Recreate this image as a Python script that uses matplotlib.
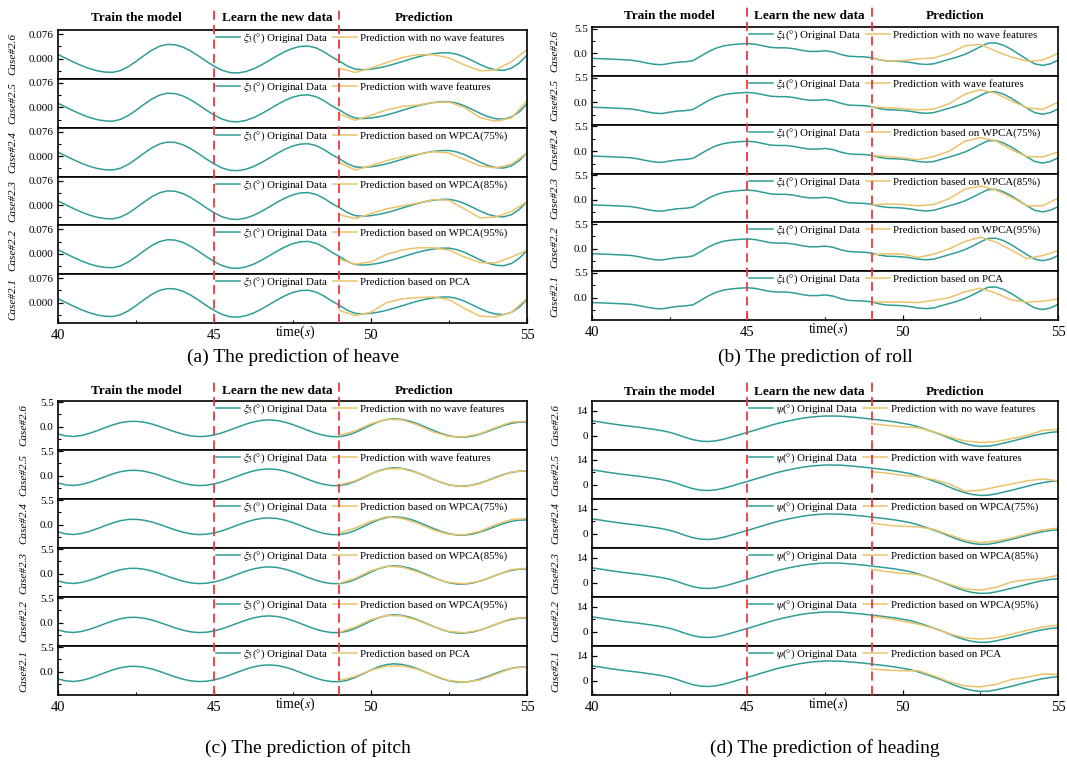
import numpy as np
import matplotlib.pyplot as plt
from matplotlib.ticker import FixedLocator, FormatStrFormatter

plt.rcParams['font.family'] = ['Liberation Serif', 'DejaVu Serif']
plt.rcParams['mathtext.fontset'] = 'stix'

W, H = 1067, 760
TEAL = '#2f9d97'
GOLD = '#eac36a'
RED = '#e8383d'

# x grids: original data every 0.25 s, predictions every 0.5 s from 49 s
time_full = np.arange(40, 55.001, 0.25)
time_pred = np.arange(49, 55.001, 0.5)

case_names = ["Case#2.6", "Case#2.5", "Case#2.4", "Case#2.3", "Case#2.2", "Case#2.1"]
pred_names = ["Prediction with no wave features", "Prediction with wave features",
              "Prediction based on WPCA(75%)", "Prediction based on WPCA(85%)",
              "Prediction based on WPCA(95%)", "Prediction based on PCA"]
headers = ["Train the model", "Learn the new data", "Prediction"]

# ---- heave ----
heave_orig = [0.0127, 0.0008, -0.0110, -0.0219, -0.0311, -0.0380, -0.0420, -0.0429,
              -0.0373, -0.0252, -0.0087, 0.0093, 0.0259, 0.0382, 0.0440, 0.0427,
              0.0354, 0.0231, 0.0077, -0.0090, -0.0243, -0.0365, -0.0436, -0.0448,
              -0.0407, -0.0322, -0.0202, -0.0062, 0.0082, 0.0212, 0.0315, 0.0376,
              0.0388, 0.0332, 0.0212, 0.0054, -0.0080, -0.0230, -0.0330, -0.0348,
              -0.0330, -0.0292, -0.0238, -0.0171, -0.0097, -0.0022, 0.0048, 0.0107,
              0.0150, 0.0175, 0.0179, 0.0135, 0.0048, -0.0066, -0.0185, -0.0288,
              -0.0353, -0.0368, -0.0300, -0.0140, 0.0106]
heave_pred = [
    [-0.030, -0.043, -0.030, -0.013, 0.003, 0.012, 0.012, 0.002, -0.020, -0.038, -0.035, -0.010, 0.028],
    [-0.020, -0.040, -0.025, -0.008, 0.003, 0.007, 0.015, 0.017, 0.000, -0.032, -0.043, -0.033, 0.020],
    [-0.020, -0.043, -0.030, -0.014, -0.002, 0.006, 0.014, 0.010, -0.010, -0.030, -0.036, -0.025, 0.010],
    [-0.030, -0.042, -0.027, -0.012, -0.003, 0.006, 0.017, 0.015, -0.012, -0.040, -0.037, -0.020, 0.010],
    [-0.016, -0.032, -0.025, -0.002, 0.012, 0.019, 0.019, 0.012, -0.010, -0.027, -0.028, -0.010, 0.011],
    [-0.024, -0.040, -0.030, 0.000, 0.012, 0.016, 0.018, 0.010, -0.018, -0.042, -0.044, -0.030, 0.013],
]

# ---- roll ----
roll_orig = [-1.10, -1.15, -1.22, -1.30, -1.38, -1.48, -1.75, -2.10,
             -2.40, -2.50, -2.20, -1.95, -1.85, -1.60, -0.60, 0.40,
             1.20, 1.70, 1.95, 2.10, 2.20, 2.05, 1.70, 1.35,
             1.25, 1.25, 1.05, 0.70, 0.45, 0.45, 0.60, 0.35,
             -0.20, -0.60, -0.70, -0.75, -0.95, -1.40, -1.65, -1.70,
             -1.80, -2.00, -2.30, -2.45, -2.30, -1.80, -1.30, -0.80,
             -0.20, 0.60, 1.50, 2.30, 2.35, 1.80, 0.90, -0.20,
             -1.30, -2.30, -2.65, -2.30, -1.50]
roll_pred = [
    [-1.0, -1.7, -1.6, -1.2, -1.0, 0.0, 1.7, 2.0, 0.5, -0.8, -1.7, -1.5, 0.0],
    [-1.0, -1.2, -1.4, -1.7, -1.5, -0.3, 1.8, 2.8, 2.0, 0.3, -1.2, -1.6, 0.0],
    [-1.0, -1.2, -1.5, -1.9, -1.2, 0.0, 2.2, 3.0, 2.3, 0.3, -1.2, -1.3, -0.2],
    [-1.1, -0.9, -1.0, -1.3, -1.0, 0.3, 2.4, 3.1, 2.2, 0.6, -1.3, -1.3, 0.4],
    [-1.3, -1.1, -1.2, -1.9, -1.2, 0.0, 1.6, 2.6, 1.5, -0.3, -2.2, -1.5, -0.4],
    [-0.9, -1.0, -1.0, -1.1, -0.6, 0.0, 1.3, 2.1, 1.0, -0.5, -1.0, -0.8, -0.3],
]

# ---- pitch ----
pitch_orig = [-1.66, -2.10, -2.23, -2.00, -1.54, -0.93, -0.26, 0.38,
              0.87, 1.15, 1.18, 0.98, 0.58, 0.03, -0.59, -1.20,
              -1.72, -2.09, -2.25, -2.17, -1.88, -1.39, -0.77, -0.11,
              0.52, 1.04, 1.38, 1.50, 1.37, 1.01, 0.47, -0.19,
              -0.88, -1.50, -1.98, -2.25, -2.27, -1.95, -1.34, -0.53,
              0.32, 1.07, 1.57, 1.75, 1.61, 1.22, 0.63, -0.10,
              -0.85, -1.53, -2.06, -2.35, -2.38, -2.15, -1.69, -1.08,
              -0.41, 0.23, 0.72, 1.00, 1.05]
pitch_pred = [
    [-2.0, -1.0, 0.6, 1.65, 1.5, 0.4, -1.2, -2.2, -2.3, -1.6, -0.2, 1.0, 1.2],
    [-2.1, -1.2, 0.4, 1.5, 1.55, 0.6, -0.9, -2.1, -2.5, -1.8, -0.5, 0.8, 1.1],
    [-1.9, -0.8, 0.7, 1.75, 1.4, 0.3, -1.2, -2.2, -2.3, -1.5, 0.0, 1.1, 1.4],
    [-2.2, -1.1, 0.6, 1.65, 1.45, 0.4, -1.0, -2.0, -2.3, -1.7, -0.4, 0.9, 1.2],
    [-2.2, -1.0, 0.6, 1.6, 1.5, 0.5, -0.9, -2.0, -2.3, -1.7, -0.4, 0.9, 1.2],
    [-2.0, -1.1, 0.3, 1.2, 1.3, 0.5, -0.8, -2.0, -2.4, -1.9, -0.6, 0.7, 1.1],
]

# ---- heading ----
heading_orig = [8.3, 7.7, 7.0, 6.4, 5.8, 5.3, 4.8, 4.2,
                3.6, 2.9, 2.0, 0.7, -0.8, -2.1, -2.9, -3.1,
                -2.7, -1.8, -0.6, 0.7, 1.9, 3.2, 4.5, 5.8,
                7.0, 8.0, 8.9, 9.7, 10.3, 10.7, 11.0, 11.0,
                10.9, 10.6, 10.2, 9.8, 9.3, 8.8, 8.3, 7.7,
                7.0, 6.2, 5.0, 3.6, 2.1, 0.6, -1.2, -2.9,
                -4.3, -5.3, -5.8, -5.7, -5.0, -4.0, -3.0, -1.9,
                -0.8, 0.3, 1.2, 1.9, 2.3]
heading_pred = [
    [6.8, 5.8, 5.0, 4.5, 2.3, -0.5, -2.8, -3.6, -3.2, -1.5, 0.2, 3.0, 3.6],
    [7.3, 6.5, 5.3, 4.4, 3.0, 0.5, -3.5, -3.0, -1.2, 0.5, 2.2, 3.3, 2.2],
    [6.0, 4.8, 4.2, 3.9, 2.5, -0.5, -3.5, -4.8, -4.0, -2.3, 0.0, 2.2, 3.2],
    [7.5, 6.2, 5.3, 4.6, 2.2, -0.8, -3.3, -4.0, -2.5, 0.5, 1.8, 2.4, 4.2],
    [8.7, 7.5, 5.9, 4.3, 2.0, -1.0, -3.3, -4.0, -3.2, -1.3, 0.8, 2.7, 3.8],
    [6.5, 6.0, 5.6, 5.6, 2.8, -0.5, -2.8, -3.3, -2.0, 0.8, 2.0, 3.8, 3.6],
]


def rect(l, t, r, b):
    return [l / W, 1 - b / H, (r - l) / W, (b - t) / H]


fig = plt.figure(figsize=(W / 100, H / 100), dpi=100)


def draw_panel(box, orig, preds, symbol, major, ylim, fmt, label_dx, head_y, title, title_xy):
    l, t, r, b = box
    h = (b - t) / 6
    for i in range(6):
        ax = fig.add_axes(rect(l, t + i * h, r, t + (i + 1) * h))
        ax.plot(time_full, orig, color=TEAL, lw=1.1, label=symbol + '(°) Original Data')
        ax.plot(time_pred, preds[i], color=GOLD, lw=1.1, label=pred_names[i])
        ax.set_xlim(40, 55)
        ax.set_ylim(*ylim)
        ax.yaxis.set_major_locator(FixedLocator([0, major]))
        ax.yaxis.set_minor_locator(FixedLocator([-major / 2, major / 2]))
        ax.yaxis.set_major_formatter(FormatStrFormatter(fmt))
        ax.tick_params(axis='y', which='both', direction='in', labelsize=8, pad=3)
        ax.tick_params(which='major', length=3.5, width=0.9)
        ax.tick_params(which='minor', length=2, width=0.8)
        for sp in ax.spines.values():
            sp.set_linewidth(1.2)
        ax.set_ylabel(case_names[i], style='italic', fontsize=8)
        ax.yaxis.set_label_coords(-label_dx / (r - l), 0.5)
        ax.legend(loc='upper left', bbox_to_anchor=(1 / 3, 1.0), ncol=2, frameon=False,
                  fontsize=7.8, handlelength=2.2, handletextpad=0.3,
                  columnspacing=0.5, borderpad=0.15, borderaxespad=0)
        if i < 5:
            ax.tick_params(axis='x', which='both', bottom=False, labelbottom=False)
        else:
            ax.xaxis.set_major_locator(FixedLocator([40, 45, 50, 55]))
            ax.xaxis.set_minor_locator(FixedLocator([42.5, 47.5, 52.5]))
            ax.tick_params(axis='x', which='both', direction='in', labelsize=10.5, pad=4)
            ax.annotate('time($s$)', xy=(47.6, -0.2), xycoords=('data', 'axes fraction'),
                        ha='center', va='center', fontsize=10)

    top = head_y - 11
    ov = fig.add_axes(rect(l, top, r, b))
    ov.set_xlim(40, 55)
    ov.set_ylim(b, top)
    ov.axis('off')
    for x in (45, 49):
        ov.plot([x, x], [b, top], color=RED, lw=1.3, ls=(0, (5, 3)))
    for x, s in zip([42.5, 47.0, 51.7], headers):
        ov.text(x, head_y, s, ha='center', va='center', fontweight='bold', fontsize=9.5)
    fig.text(title_xy[0] / W, 1 - title_xy[1] / H, title, ha='center', va='center', fontsize=14)


draw_panel((58, 30, 527, 323), heave_orig, heave_pred, r'$\xi_3$', 0.076, (-0.063, 0.0887),
           '%.3f', 41, 18, '(a) The prediction of heave', (293, 357))
draw_panel((592, 27, 1058, 320), roll_orig, roll_pred, r'$\xi_4$', 5.5, (-4.97, 5.88),
           '%.1f', 33, 16, '(b) The prediction of roll', (815, 357))
draw_panel((58, 401, 527, 695), pitch_orig, pitch_pred, r'$\xi_5$', 5.5, (-5.27, 5.75),
           '%.1f', 30, 391, '(c) The prediction of pitch', (308, 748))
draw_panel((592, 401, 1058, 695), heading_orig, heading_pred, r'$\psi$', 14, (-7.8, 19.3),
           '%d', 32, 392, '(d) The prediction of heading', (825, 748))

fig.savefig('out.png', dpi=100)
